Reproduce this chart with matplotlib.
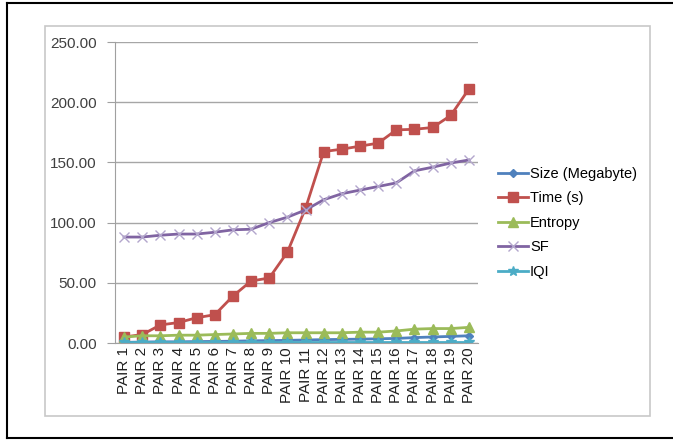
import numpy as np
import matplotlib.pyplot as plt
from matplotlib.patches import Rectangle
from matplotlib.lines import Line2D

plt.rcParams['font.family'] = ['Liberation Sans', 'DejaVu Sans']

# data
pairs = ['PAIR %d' % i for i in range(1, 21)]
size_mb = [0.5, 0.8, 1.0, 1.0, 1.2, 1.3, 1.5, 1.8, 2.0, 2.2, 2.5, 2.8, 3.0, 3.2, 3.5, 3.8, 4.5, 5.0, 5.5, 6.0]
time_s = [5, 7, 15, 17, 21, 23.5, 39, 51.5, 54, 75.5, 112, 159, 161, 163.5, 166, 177, 177.5, 179, 189, 211]
entropy = [5, 6, 6, 6.5, 6.5, 7, 7.5, 8, 8, 8.5, 8.5, 8.5, 8.5, 9, 9, 10, 11.5, 12, 12, 13]
sf = [88, 88, 89.5, 90.5, 90.5, 92, 94, 94.5, 100, 104.5, 110.5, 119, 124, 127, 130, 133, 143, 146, 149.5, 152]
iqi = [0.8] * 20

W, H = 673, 440
fig = plt.figure(figsize=(W / 100, H / 100), dpi=100)

# outer black frame (left, top, bottom) and grey chart-area box
fig.add_artist(Line2D([7 / W, 7 / W], [1 - 3 / H, 1 - 438 / H], color='black', lw=1.5))
fig.add_artist(Line2D([7 / W, 1], [1 - 3 / H, 1 - 3 / H], color='black', lw=1.5))
fig.add_artist(Line2D([7 / W, 1], [1 - 438 / H, 1 - 438 / H], color='black', lw=1.5))
fig.add_artist(Rectangle((45 / W, 1 - 416 / H), (650 - 45) / W, (416 - 26) / H,
                         transform=fig.transFigure, fill=False, ec='#c8c8c8', lw=1.2))

ax = fig.add_axes([115 / W, 1 - 343 / H, (478 - 115) / W, (343 - 42) / H])
x = np.arange(len(pairs))

ax.plot(x, size_mb, color='#4F81BD', marker='D', ms=4.5, lw=2, label='Size (Megabyte)')
ax.plot(x, time_s, color='#C0504D', marker='s', ms=7, lw=2, label='Time (s)')
ax.plot(x, entropy, color='#9BBB59', marker='^', ms=7, lw=2, label='Entropy')
ax.plot(x, sf, color='#8064A2', marker='x', ms=7, mec='#b3a6cc', mew=1, lw=2, label='SF')
ax.plot(x, iqi, color='#4BACC6', marker='*', ms=7, lw=2, label='IQI')

ax.set_xlim(-0.5, 19.5)
ax.set_ylim(0, 250)
ax.set_yticks(np.arange(0, 251, 50))
ax.set_yticklabels(['%.2f' % v for v in np.arange(0, 251, 50)], fontsize=11, color='#404040')
ax.set_xticks(x)
ax.set_xticklabels(pairs, rotation=90, fontsize=11, color='#202020')
ax.tick_params(axis='x', length=0, pad=3)
ax.tick_params(axis='y', length=6, color='#a0a0a0', pad=7)
ax.yaxis.grid(True, color='#a6a6a6', lw=1)
ax.set_axisbelow(True)
for s in ['top', 'right']:
    ax.spines[s].set_visible(False)
ax.spines['left'].set_color('#a0a0a0')
ax.spines['bottom'].set_color('#a0a0a0')

ax.legend(loc='upper left', bbox_to_anchor=(492 / W, 1 - 161 / H), bbox_transform=fig.transFigure,
          frameon=False, fontsize=10.5, handlelength=2.1, handletextpad=0.1,
          labelspacing=0.72, borderaxespad=0)

fig.savefig('out.png', dpi=100)
